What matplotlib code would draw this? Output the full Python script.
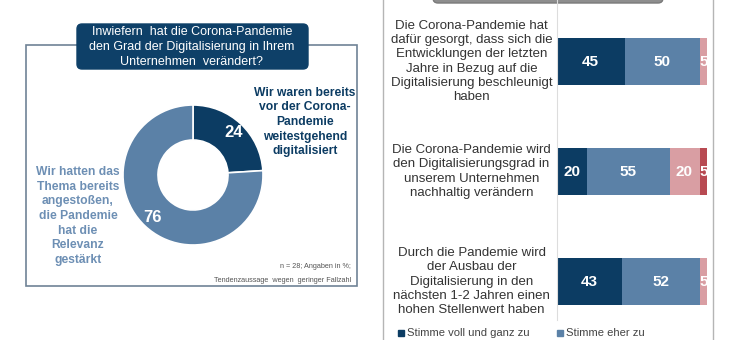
import numpy as np
import matplotlib
matplotlib.use("Agg")
import matplotlib.pyplot as plt
from matplotlib.patches import FancyBboxPatch, Rectangle

plt.rcParams['font.family'] = ['Liberation Sans', 'DejaVu Sans']

# donut data
donut_values = [24, 76]
donut_labels = ["Wir waren bereits\nvor der Corona-\nPandemie\nweitestgehend\ndigitalisiert",
                "Wir hatten das\nThema bereits\nangestoßen,\ndie Pandemie\nhat die\nRelevanz\ngestärkt"]

# stacked bar data
statements = ["Die Corona-Pandemie hat\ndafür gesorgt, dass sich die\nEntwicklungen der letzten\nJahre in Bezug auf die\nDigitalisierung beschleunigt\nhaben",
              "Die Corona-Pandemie wird\nden Digitalisierungsgrad in\nunserem Unternehmen\nnachhaltig verändern",
              "Durch die Pandemie wird\nder Ausbau der\nDigitalisierung in den\nnächsten 1-2 Jahren einen\nhohen Stellenwert haben"]
voll_zu = [45, 20, 43]
eher_zu = [50, 55, 52]
eher_nicht = [5, 20, 5]
gar_nicht = [0, 5, 0]
legend_labels = ["Stimme voll und ganz zu", "Stimme eher zu"]

NAVY = '#0c3c63'
MID = '#5b81a7'
PINK = '#d99ea3'
RED = '#b84a52'

W, H = 730, 340
fig = plt.figure(figsize=(W / 100, H / 100), dpi=100)
fig.patch.set_facecolor('white')

def px_axes(x0, y0, x1, y1):
    return fig.add_axes([x0 / W, 1 - y1 / H, (x1 - x0) / W, (y1 - y0) / H])

# background layer in pixel coords
bg = px_axes(0, 0, W, H)
bg.set_xlim(0, W)
bg.set_ylim(H, 0)
bg.axis('off')

# left box
bg.add_patch(Rectangle((26, 45), 331, 241, fill=False, ec='#6f8396', lw=1.2))
bg.add_patch(FancyBboxPatch((77, 24), 231, 45, boxstyle="round,pad=0,rounding_size=5",
                            fc='#0e4068', ec='#0e4068'))
bg.text(192, 47, "Inwiefern  hat die Corona-Pandemie\nden Grad der Digitalisierung in Ihrem\nUnternehmen  verändert?",
        color='white', fontsize=9, ha='center', va='center', linespacing=1.3)
bg.text(305, 122, donut_labels[0], color=NAVY, fontsize=8.7, fontweight='bold',
        ha='center', va='center', linespacing=1.3)
bg.text(78, 216, donut_labels[1], color='#6d8fb4', fontsize=8.7, fontweight='bold',
        ha='center', va='center', linespacing=1.3)
bg.text(351, 267, "n = 28; Angaben in %;", color='#555555', fontsize=5.2, ha='right', va='center')
bg.text(351, 281, "Tendenzaussage  wegen  geringer Fallzahl", color='#555555', fontsize=5.2,
        ha='right', va='center')

# right box
bg.add_patch(Rectangle((383, -5), 330, 360, fill=False, ec='#b5b5b5', lw=1.0))
bg.add_patch(FancyBboxPatch((433, -20), 230, 23, boxstyle="round,pad=0,rounding_size=5",
                            fc='#8e8e8e', ec='#7a7a7a'))

# donut
ax_d = px_axes(193 - 70, 175 - 70, 193 + 70, 175 + 70)
wedges, _, autotexts = ax_d.pie(donut_values, colors=[NAVY, MID], startangle=90, counterclock=False,
                                radius=1, autopct='%d', pctdistance=0.84,
                                wedgeprops=dict(width=0.5, edgecolor='white', linewidth=1.2))
for t in autotexts:
    t.set_color('white')
    t.set_fontsize(12)
    t.set_fontweight('bold')
ax_d.set_xlim(-1, 1)
ax_d.set_ylim(-1, 1)
ax_d.set_aspect('equal')

# stacked bars
ax = px_axes(557, 0, 707, 320)
y = np.arange(len(statements))
segments = [(voll_zu, NAVY), (eher_zu, MID), (eher_nicht, PINK), (gar_nicht, RED)]
left = np.zeros(len(statements))
for vals, col in segments:
    vals = np.array(vals, dtype=float)
    ax.barh(y, vals, left=left, height=0.43, color=col)
    for yi, (l, v) in enumerate(zip(left, vals)):
        if v > 0:
            ax.text(l + v / 2, yi, str(int(v)), color='white', fontsize=11, fontweight='bold',
                    ha='center', va='center', clip_on=False)
    left += vals
ax.set_xlim(0, 100)
ax.set_ylim(2.35, -0.56)
for s in ['top', 'right', 'bottom']:
    ax.spines[s].set_visible(False)
ax.spines['left'].set_color('#dddddd')
ax.set_xticks([])
ax.set_yticks([])
ax.patch.set_alpha(0)
for yi, s in enumerate(statements):
    ax.text(-57, yi, s, ha='center', va='center', fontsize=9.5, color='#333333',
            linespacing=1.25, clip_on=False)

# legend
bg.plot([401], [333], marker='s', ms=5, color=NAVY, ls='none')
bg.text(407, 333, legend_labels[0], fontsize=8.1, color='#444444', va='center')
bg.plot([560], [333], marker='s', ms=5, color=MID, ls='none')
bg.text(566, 333, legend_labels[1], fontsize=8.1, color='#444444', va='center')

fig.savefig('out.png', dpi=100)
